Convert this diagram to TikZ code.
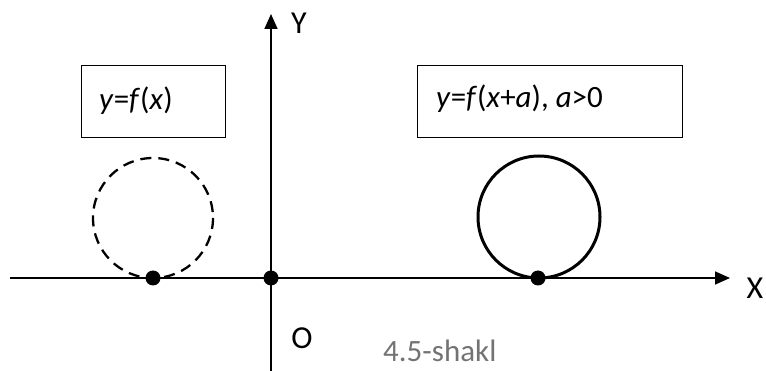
\documentclass[tikz,border=0pt]{standalone}
\usepackage{fontspec}
\setmainfont{Carlito}
\usetikzlibrary{arrows.meta}
\begin{document}
\begin{tikzpicture}[x=1pt,y=-1pt,
  axis/.style={line width=1.7pt,-{Triangle[length=15pt,width=13pt]}},
  dot/.style={circle,fill=black,inner sep=0pt,minimum size=15pt},
  fbox/.style={draw,line width=1.2pt,minimum width=144pt,minimum height=72pt,anchor=north west,inner sep=0pt},
  lbl/.style={font=\fontsize{32}{36}\selectfont,inner sep=0pt},
  ftxt/.style={font=\fontsize{31}{36}\selectfont,anchor=base west,inner sep=0pt}]
\useasboundingbox (0,0) rectangle (766,371);
\coordinate (xs) at (10,278);
\coordinate (xe) at (730,278);
\coordinate (ys) at (271,371);
\coordinate (ye) at (271,14);
\draw[axis] (xs) -- (xe);
\draw[axis] (ys) -- (ye);
\node[lbl] (Y) at (299,23) {Y};
\node[lbl] (X) at (755,288) {X};
\node[lbl] (O) at (302,338) {O};
\node[font=\fontsize{31}{36}\selectfont,text=black!55,anchor=west,inner sep=0pt] (cap) at (383,351) {4.5-shakl};
\node[fbox] (b1) at (81,65) {};
\node[ftxt] (t1) at (99,110) {\textit{y}=\textit{f}(\textit{x})};
\node[fbox,minimum width=265pt] (b2) at (417,65) {};
\node[ftxt] (t2) at (436,108) {\textit{y}=\textit{f}(\textit{x}+\textit{a}), \textit{a}>0};
\draw[line width=2.3pt,dash pattern=on 11pt off 7pt] (153,218) circle[radius=60];
\draw[line width=3pt] (539,217) circle[radius=61];
\node[dot] (d1) at (153,278) {};
\node[dot] (d0) at (271,278) {};
\node[dot] (d2) at (538,278) {};
\end{tikzpicture}
\end{document}
